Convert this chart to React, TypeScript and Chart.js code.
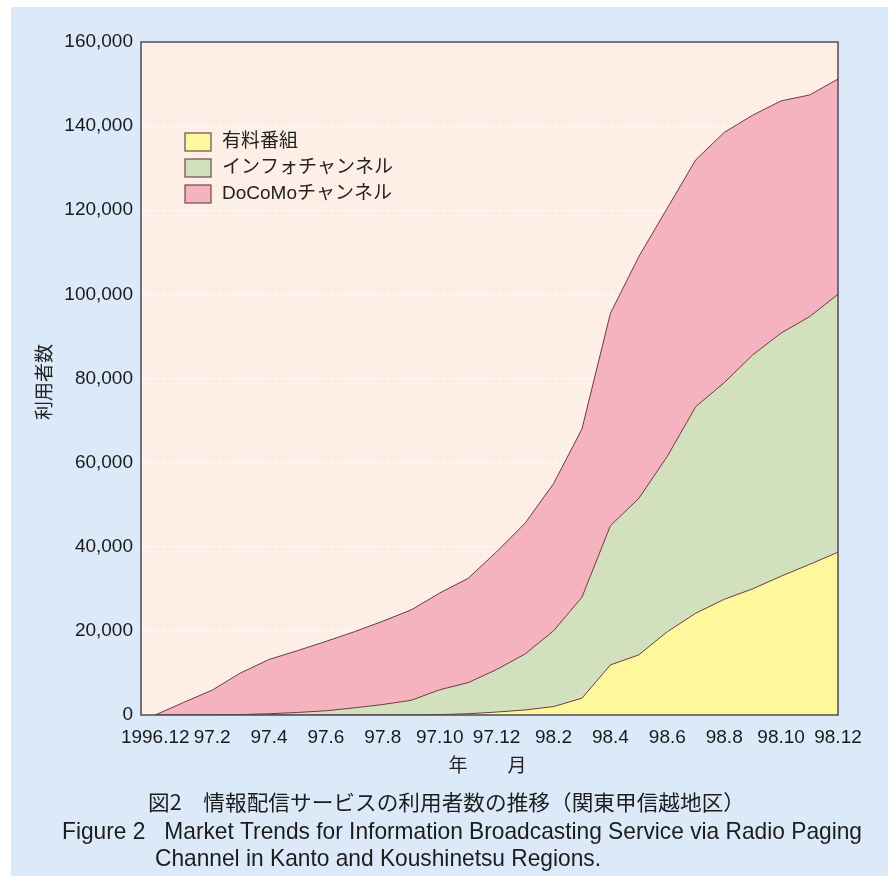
import React, { useEffect, useRef } from "react";
import { Chart, registerables } from "chart.js";

Chart.register(...registerables);

// Months from 1996.12 to 1998.12
const monthLabels = [
  "1996.12", "97.1", "97.2", "97.3", "97.4", "97.5", "97.6", "97.7", "97.8", "97.9", "97.10", "97.11", "97.12",
  "98.1", "98.2", "98.3", "98.4", "98.5", "98.6", "98.7", "98.8", "98.9", "98.10", "98.11", "98.12",
];
const tickMonths = [0, 2, 4, 6, 8, 10, 12, 14, 16, 18, 20, 22, 24];

const seriesNames = ["有料番組", "インフォチャンネル", "DoCoMoチャンネル"];
const paidPrograms = [0, 0, 0, 0, 0, 0, 0, 0, 0, 0, 100, 300, 700, 1200, 2000, 4000, 11900, 14300, 19800, 24200, 27500, 30000, 33000, 35800, 38700];
const infoChannel = [0, 0, 0, 100, 300, 600, 1000, 1700, 2500, 3500, 5900, 7400, 10100, 13300, 18000, 24000, 33100, 37200, 41700, 49100, 51500, 55600, 57800, 58900, 61300];
const docomoChannel = [0, 3000, 5900, 9900, 12900, 14700, 16500, 18100, 19800, 21500, 23000, 24800, 28000, 31100, 35000, 40000, 50500, 57500, 59000, 58700, 59500, 57000, 55200, 52700, 51200];

const fillColors = ["#fdf89c", "#d3e0be", "#f4b3be"];
const lineColor = "#6a3c3e";

const yTitle = "利用者数";
const xTitleYear = "年";
const xTitleMonth = "月";
const captionJa = "図2　情報配信サービスの利用者数の推移（関東甲信越地区）";
const captionEn1 = "Figure 2   Market Trends for Information Broadcasting Service via Radio Paging";
const captionEn2 = "Channel in Kanto and Koushinetsu Regions.";

const LATIN = "'Liberation Sans', Arial, sans-serif";
const CJK = "'Noto Sans CJK JP', sans-serif";
const MIXED = "'Liberation Sans', 'Noto Sans CJK JP', sans-serif";

function drawFitted(ctx: CanvasRenderingContext2D, text: string, x: number, y: number, k: number) {
  ctx.save();
  ctx.translate(x, y);
  ctx.scale(k, 1);
  ctx.fillText(text, 0, 0);
  ctx.restore();
}

const decorPlugin = {
  id: "decor",
  beforeDraw(chart: any) {
    const { ctx, chartArea: a } = chart;
    ctx.save();
    ctx.fillStyle = "#ffffff";
    ctx.fillRect(0, 0, chart.width, chart.height);
    ctx.fillStyle = "#dbe9f9";
    ctx.fillRect(11, 7, chart.width - 11, chart.height - 7);
    ctx.fillStyle = "#fdeee6";
    ctx.fillRect(a.left, a.top, a.right - a.left, a.bottom - a.top);
    ctx.restore();
  },
  afterDraw(chart: any) {
    const { ctx, chartArea: a } = chart;
    ctx.save();
    // frame
    ctx.strokeStyle = "#4c4a55";
    ctx.lineWidth = 1.5;
    ctx.strokeRect(a.left, a.top, a.right - a.left, a.bottom - a.top);

    // legend
    const ds = chart.data.datasets;
    ctx.font = `19px ${MIXED}`;
    ctx.textBaseline = "middle";
    ctx.textAlign = "left";
    for (let i = 0; i < ds.length; i++) {
      const y = 133 + i * 26;
      ctx.fillStyle = ds[i].backgroundColor;
      ctx.fillRect(185, y, 26, 18);
      ctx.strokeStyle = "#6b4a4a";
      ctx.lineWidth = 1.2;
      ctx.strokeRect(185, y, 26, 18);
      ctx.fillStyle = "#222";
      ctx.fillText(ds[i].label, 222, y + 9);
    }

    // y title
    ctx.save();
    ctx.translate(44, 382);
    ctx.rotate(-Math.PI / 2);
    ctx.font = `19px ${CJK}`;
    ctx.textAlign = "center";
    ctx.fillStyle = "#222";
    ctx.fillText(yTitle, 0, 0);
    ctx.restore();

    // x title
    ctx.font = `19px ${CJK}`;
    ctx.textAlign = "center";
    ctx.fillStyle = "#222";
    ctx.fillText(xTitleYear, 458, 765);
    ctx.fillText(xTitleMonth, 517, 765);

    // captions
    ctx.textAlign = "left";
    ctx.fillStyle = "#1c1c1c";
    ctx.font = `21px ${CJK}`;
    const wj = ctx.measureText(captionJa).width;
    drawFitted(ctx, captionJa, 148, 802, 597 / wj);

    ctx.font = `24px ${LATIN}`;
    const w1 = ctx.measureText(captionEn1).width;
    const k = 800 / w1;
    drawFitted(ctx, captionEn1, 62, 832, k);
    drawFitted(ctx, captionEn2, 155, 859, k);
    ctx.restore();
  },
};

export default function App() {
  const ref = useRef<HTMLCanvasElement | null>(null);
  useEffect(() => {
    if (!ref.current) return;
    const series = [paidPrograms, infoChannel, docomoChannel];
    const chart = new Chart(ref.current, {
      type: "line",
      data: {
        datasets: series.map((arr, i) => ({
          label: seriesNames[i],
          data: arr.map((v, j) => ({ x: j, y: v })),
          backgroundColor: fillColors[i],
          borderColor: lineColor,
          borderWidth: 1,
          pointRadius: 0,
          tension: 0,
          fill: i === 0 ? "origin" : "-1",
        })),
      },
      options: {
        responsive: false,
        animation: false,
        layout: { padding: { left: 0, top: 42, right: 50, bottom: 131 } },
        plugins: { legend: { display: false }, tooltip: { enabled: false } },
        scales: {
          x: {
            type: "linear",
            min: -0.5,
            max: 24,
            afterBuildTicks: (scale: any) => {
              scale.ticks = tickMonths.map((v) => ({ value: v }));
            },
            afterFit: (scale: any) => {
              scale.height = 30;
            },
            grid: { display: false, drawTicks: false },
            border: { display: false },
            ticks: {
              autoSkip: false,
              maxRotation: 0,
              padding: 11,
              color: "#1a1a1a",
              font: { family: LATIN, size: 19 },
              callback: (v: any) => monthLabels[v] ?? "",
            },
          },
          y: {
            stacked: true,
            min: 0,
            max: 160000,
            afterFit: (scale: any) => {
              scale.width = 141;
            },
            grid: {
              color: "rgba(255,255,255,0.9)",
              lineWidth: 1.2,
              drawTicks: false,
            },
            border: { display: false, dash: [4, 3] },
            ticks: {
              stepSize: 20000,
              padding: 8,
              color: "#1a1a1a",
              font: { family: LATIN, size: 19 },
              callback: (v: any) => Number(v).toLocaleString("en-US"),
            },
          },
        },
      },
      plugins: [decorPlugin],
    });
    return () => chart.destroy();
  }, []);
  return (
    <div style={{ position: "absolute", left: 0, top: 0, width: 888, height: 876 }}>
      <canvas ref={ref} width={888} height={876} style={{ display: "block" }} />
    </div>
  );
}
